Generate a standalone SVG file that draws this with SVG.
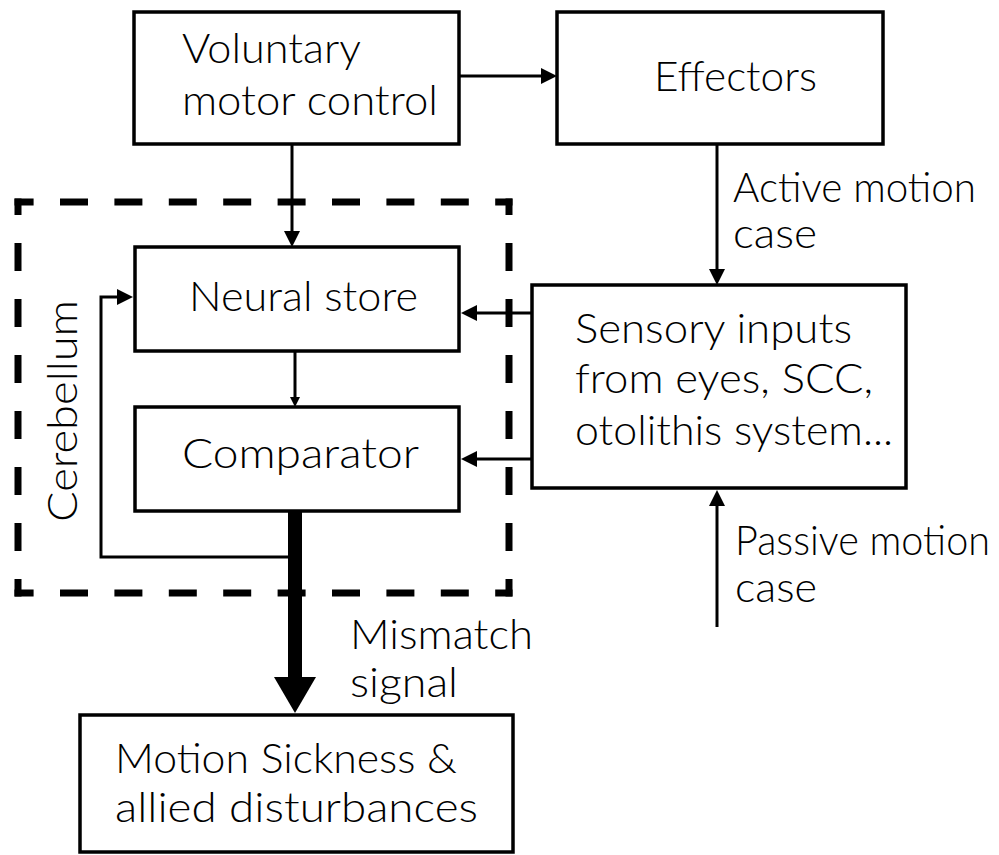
<svg xmlns="http://www.w3.org/2000/svg" width="999" height="855" viewBox="0 0 999 855">
<style>
.box{fill:#fff;stroke:#000;stroke-width:3.5}
.t{font-family:Lato,"Open Sans","Liberation Sans",sans-serif;font-size:41px;font-weight:300;fill:#000}
.c{fill:none;stroke:#000;stroke-width:3}
.dash{stroke:#000;stroke-width:7;fill:none}
</style>
<defs>
<marker id="arr" markerUnits="userSpaceOnUse" viewBox="0 0 16 16" markerWidth="16" markerHeight="16" refX="10" refY="8" orient="auto">
<path d="M0,0 L16,8 L0,16 Z" fill="#000"/>
</marker>
<marker id="arrs" markerUnits="userSpaceOnUse" viewBox="0 0 10 10" markerWidth="10" markerHeight="10" refX="6" refY="5" orient="auto">
<path d="M0,0 L10,5 L0,10 Z" fill="#000"/>
</marker>
</defs>

<g id="cerebellum">
<line class="dash" x1="14.5" y1="202" x2="512.5" y2="202" stroke-dasharray="28 26.4" stroke-dashoffset="8.9"/>
<line class="dash" x1="14.5" y1="593" x2="512.5" y2="593" stroke-dasharray="28 26.4" stroke-dashoffset="8.9"/>
<line class="dash" x1="18" y1="198.5" x2="18" y2="596.5" stroke-dasharray="28 28" stroke-dashoffset="11.5"/>
<line class="dash" x1="509" y1="198.5" x2="509" y2="596.5" stroke-dasharray="28 28" stroke-dashoffset="11.5"/>
<text class="t" transform="translate(77,411) rotate(-90)" text-anchor="middle" textLength="222" lengthAdjust="spacingAndGlyphs">Cerebellum</text>
</g>

<g id="connectors">
<path class="c" d="M459,76 H551" marker-end="url(#arr)"/>
<path class="c" d="M292,145 V241" marker-end="url(#arr)"/>
<path class="c" d="M295,352 V403" stroke-width="2.5" marker-end="url(#arrs)"/>
<path class="c" d="M717,145 V279" marker-end="url(#arr)"/>
<path class="c" d="M532,313 H467" marker-end="url(#arr)"/>
<path class="c" d="M532,459 H467" marker-end="url(#arr)"/>
<path class="c" d="M717,627 V496" marker-end="url(#arr)"/>
<path class="c" d="M289,557 H101 V297 H127" marker-end="url(#arr)"/>
<path d="M295,512 V678" stroke="#000" stroke-width="14" fill="none"/>
<polygon points="274,677 316,677 295,713" fill="#000"/>
<text class="t" x="733" y="202" textLength="243" lengthAdjust="spacingAndGlyphs">Active motion</text>
<text class="t" x="733" y="248" textLength="84" lengthAdjust="spacingAndGlyphs">case</text>
<text class="t" x="735" y="555" textLength="255" lengthAdjust="spacingAndGlyphs">Passive motion</text>
<text class="t" x="735" y="602" textLength="82" lengthAdjust="spacingAndGlyphs">case</text>
<text class="t" x="350" y="649" textLength="183" lengthAdjust="spacingAndGlyphs">Mismatch</text>
<text class="t" x="350" y="697" textLength="108" lengthAdjust="spacingAndGlyphs">signal</text>
</g>

<g id="voluntary">
<rect class="box" x="134" y="12" width="325" height="132"/>
<text class="t" x="182" y="63" textLength="179" lengthAdjust="spacingAndGlyphs">Voluntary</text>
<text class="t" x="182" y="115" textLength="256" lengthAdjust="spacingAndGlyphs">motor control</text>
</g>

<g id="effectors">
<rect class="box" x="557" y="12" width="326" height="132"/>
<text class="t" x="654" y="91" textLength="163" lengthAdjust="spacingAndGlyphs">Effectors</text>
</g>

<g id="neural-store">
<rect class="box" x="135" y="247" width="324" height="104"/>
<text class="t" x="189" y="311" textLength="229" lengthAdjust="spacingAndGlyphs">Neural store</text>
</g>

<g id="comparator">
<rect class="box" x="135" y="407" width="324" height="104"/>
<text class="t" x="182" y="468" textLength="237" lengthAdjust="spacingAndGlyphs">Comparator</text>
</g>

<g id="sensory">
<rect class="box" x="532" y="285" width="374" height="203"/>
<text class="t" x="575" y="343" textLength="277" lengthAdjust="spacingAndGlyphs">Sensory inputs</text>
<text class="t" x="575" y="393" textLength="298" lengthAdjust="spacingAndGlyphs">from eyes, SCC,</text>
<text class="t" x="575" y="445" textLength="318" lengthAdjust="spacingAndGlyphs">otolithis system...</text>
</g>

<g id="motion-sickness">
<rect class="box" x="80" y="715" width="433" height="137"/>
<text class="t" x="115" y="773" textLength="342" lengthAdjust="spacingAndGlyphs">Motion Sickness &amp;</text>
<text class="t" x="115" y="822" textLength="363" lengthAdjust="spacingAndGlyphs">allied disturbances</text>
</g>
</svg>
